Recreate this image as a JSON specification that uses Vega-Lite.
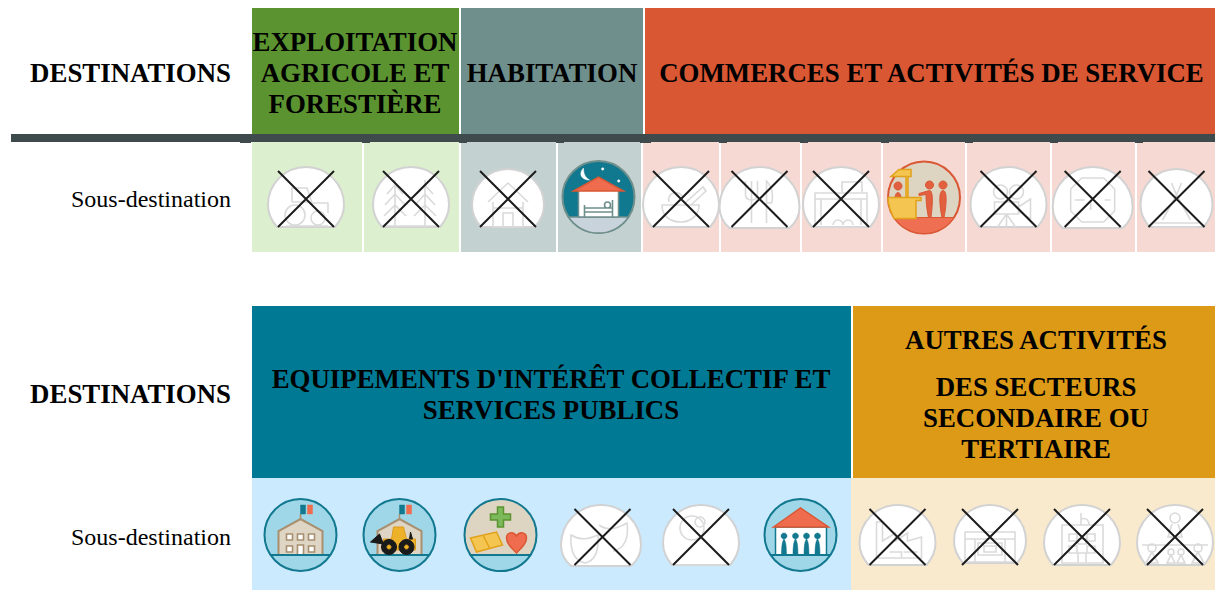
{
"$schema":"https://vega.github.io/schema/vega-lite/v6.json",
"width":1215,"height":590,"padding":0,"autosize":{"type":"none"},"background":"#ffffff",
"config":{"view":{"stroke":null},"legend":{"disable":true},"axis":{"disable":true}},
"layer":[
{"data":{"values":[
{"zone":"agricole","x0":252,"x1":459,"y0":8,"y1":134},
{"zone":"habitation","x0":461,"x1":643,"y0":8,"y1":134},
{"zone":"commerce","x0":645,"x1":1215,"y0":8,"y1":134},
{"zone":"agricole clair","x0":252,"x1":362,"y0":142,"y1":252},
{"zone":"agricole clair","x0":364,"x1":459,"y0":142,"y1":252},
{"zone":"habitation clair","x0":461,"x1":556,"y0":142,"y1":252},
{"zone":"habitation clair","x0":558,"x1":641,"y0":142,"y1":252},
{"zone":"commerce clair","x0":643,"x1":719,"y0":142,"y1":252},
{"zone":"commerce clair","x0":721,"x1":800,"y0":142,"y1":252},
{"zone":"commerce clair","x0":802,"x1":881,"y0":142,"y1":252},
{"zone":"commerce clair","x0":883,"x1":965,"y0":142,"y1":252},
{"zone":"commerce clair","x0":967,"x1":1050,"y0":142,"y1":252},
{"zone":"commerce clair","x0":1052,"x1":1135,"y0":142,"y1":252},
{"zone":"commerce clair","x0":1137,"x1":1215,"y0":142,"y1":252},
{"zone":"barre","x0":11,"x1":1215,"y0":134,"y1":142},
{"zone":"barre","x0":240,"x1":251,"y0":142,"y1":143},
{"zone":"barre","x0":362,"x1":370,"y0":142,"y1":143},
{"zone":"barre","x0":459,"x1":467,"y0":142,"y1":143},
{"zone":"barre","x0":556,"x1":564,"y0":142,"y1":143},
{"zone":"barre","x0":640,"x1":651,"y0":142,"y1":143},
{"zone":"barre","x0":719,"x1":727,"y0":142,"y1":143},
{"zone":"barre","x0":800,"x1":808,"y0":142,"y1":143},
{"zone":"barre","x0":881,"x1":889,"y0":142,"y1":143},
{"zone":"barre","x0":965,"x1":973,"y0":142,"y1":143},
{"zone":"barre","x0":1050,"x1":1058,"y0":142,"y1":143},
{"zone":"barre","x0":1135,"x1":1143,"y0":142,"y1":143},
{"zone":"equipement","x0":252,"x1":851,"y0":306,"y1":478},
{"zone":"autres","x0":853,"x1":1215,"y0":306,"y1":478},
{"zone":"equipement clair","x0":252,"x1":851,"y0":478,"y1":590},
{"zone":"autres clair","x0":851,"x1":1215,"y0":478,"y1":590}
]},
"mark":{"type":"rect","strokeWidth":0},
"encoding":{
"x":{"field":"x0","type":"quantitative","scale":{"domain":[0,1215],"range":[0,1215],"nice":false,"zero":false},"axis":null},
"x2":{"field":"x1"},
"y":{"field":"y0","type":"quantitative","scale":{"domain":[0,590],"range":[0,590],"nice":false,"zero":false},"axis":null},
"y2":{"field":"y1"},
"fill":{"field":"zone","type":"nominal","legend":null,"scale":{
"domain":["agricole","habitation","commerce","agricole clair","habitation clair","commerce clair","barre","equipement","autres","equipement clair","autres clair"],
"range":["#5b9331","#6f8f8c","#d95733","#dcefcf","#c3d1d1","#f6d9d3","#3f4a4d","#007a94","#dc9a17","#cbeafe","#f9e9cd"]}}
}},
{"data":{"values":[
{"p":"d38","k":"dome","x":306,"y":205},{"p":"tracteur","k":"ghost","x":306,"y":205},{"p":"croix","k":"croix","x":306,"y":205},
{"p":"d38","k":"dome","x":411,"y":205},{"p":"pins","k":"ghost","x":411,"y":205},{"p":"croix","k":"croix","x":411,"y":205},
{"p":"d36","k":"dome","x":508,"y":205},{"p":"maison","k":"ghost","x":508,"y":205},{"p":"croix","k":"croix","x":508,"y":205},
{"p":"disque","k":"nuit","x":598.5,"y":197},{"p":"sol","k":"sol gris","x":598.5,"y":197},{"p":"lit mur","k":"blanc gris","x":598.5,"y":197},{"p":"toit lit","k":"toit","x":598.5,"y":197},{"p":"lit","k":"trait gris","x":598.5,"y":197},{"p":"lune","k":"lune","x":598.5,"y":197},{"p":"etoiles","k":"lune","x":598.5,"y":197},
{"p":"d38","k":"dome","x":681,"y":205},{"p":"bol","k":"ghost","x":681,"y":205},{"p":"croix","k":"croix","x":681,"y":205},
{"p":"d40","k":"dome","x":759.5,"y":207},{"p":"couverts","k":"ghost","x":759.5,"y":205},{"p":"croix","k":"croix","x":759.5,"y":205},
{"p":"d38","k":"dome","x":841,"y":205},{"p":"boutique","k":"ghost","x":841,"y":205},{"p":"croix","k":"croix","x":841,"y":205},
{"p":"disque","k":"beige orange","x":924,"y":197.5},{"p":"sol","k":"sol orange","x":924,"y":197.5},{"p":"vendeur","k":"rouge","x":924,"y":197.5},{"p":"auvent","k":"jaune","x":924,"y":197.5},{"p":"comptoir","k":"jaune","x":924,"y":197.5},{"p":"client 1","k":"rouge","x":924,"y":197.5},{"p":"client 2","k":"rouge","x":924,"y":197.5},
{"p":"d38","k":"dome","x":1008.5,"y":205},{"p":"camera","k":"ghost","x":1008.5,"y":205},{"p":"croix","k":"croix","x":1008.5,"y":205},
{"p":"d40","k":"dome","x":1092.7,"y":207},{"p":"octogone","k":"ghost","x":1092.7,"y":205},{"p":"croix","k":"croix","x":1092.7,"y":205},
{"p":"d36","k":"dome","x":1176.5,"y":205},{"p":"tente","k":"ghost","x":1176.5,"y":205},{"p":"croix","k":"croix","x":1176.5,"y":205},

{"p":"disque","k":"ciel","x":300.5,"y":535},{"p":"batiment","k":"mur","x":300.5,"y":535},{"p":"fenetres","k":"fenetre","x":300.5,"y":535},{"p":"mat","k":"mat","x":300.5,"y":535},{"p":"drapeau b","k":"bleu","x":300.5,"y":535},{"p":"drapeau o","k":"orange","x":300.5,"y":535},{"p":"ligne sol","k":"trait teal","x":300.5,"y":535},
{"p":"disque","k":"ciel","x":399.5,"y":535},{"p":"batiment","k":"mur","x":399.5,"y":535},{"p":"mat","k":"mat","x":399.5,"y":535},{"p":"drapeau b","k":"bleu","x":399.5,"y":535},{"p":"drapeau o","k":"orange","x":399.5,"y":535},{"p":"ligne sol","k":"trait teal","x":399.5,"y":535},{"p":"cabine","k":"jaune engin","x":399.5,"y":535},{"p":"lame","k":"noir","x":399.5,"y":535},{"p":"roues","k":"noir","x":399.5,"y":535},{"p":"jantes","k":"jaune engin","x":399.5,"y":535},
{"p":"disque","k":"beige teal","x":500.5,"y":535},{"p":"sol","k":"sol ciel","x":500.5,"y":535},{"p":"plus","k":"vert","x":500.5,"y":535},{"p":"livre","k":"jaune","x":500.5,"y":535},{"p":"coeur","k":"toit","x":500.5,"y":535},
{"p":"d40","k":"dome","x":601,"y":545},{"p":"masques","k":"ghost","x":601,"y":543},{"p":"croix","k":"croix","x":602.5,"y":543},
{"p":"d38","k":"dome","x":701,"y":543},{"p":"raquette","k":"ghost","x":701,"y":543},{"p":"croix","k":"croix","x":701,"y":543},
{"p":"disque","k":"ciel","x":800.5,"y":535},{"p":"mur monument","k":"blanc teal","x":800.5,"y":535},{"p":"silhouettes","k":"bleu","x":800.5,"y":535},{"p":"toit monument","k":"toit","x":800.5,"y":535},{"p":"ligne sol","k":"trait teal","x":800.5,"y":535},
{"p":"d38","k":"dome","x":897.5,"y":543},{"p":"usine","k":"ghost","x":897.5,"y":543},{"p":"croix","k":"croix","x":897.5,"y":543},
{"p":"d36","k":"dome","x":990,"y":541},{"p":"salle","k":"ghost","x":990,"y":543},{"p":"croix","k":"croix","x":990,"y":543},
{"p":"d38","k":"dome","x":1082,"y":543},{"p":"ecole","k":"ghost","x":1082,"y":543},{"p":"croix","k":"croix","x":1082,"y":543},
{"p":"d38","k":"dome","x":1175,"y":543},{"p":"foule","k":"ghost","x":1175,"y":543},{"p":"croix","k":"croix","x":1175,"y":543}
]},
"mark":{"type":"point","filled":true,"opacity":1,"size":4},
"encoding":{
"x":{"field":"x","type":"quantitative","scale":{"domain":[0,1215],"range":[0,1215],"nice":false,"zero":false},"axis":null},
"y":{"field":"y","type":"quantitative","scale":{"domain":[0,590],"range":[0,590],"nice":false,"zero":false},"axis":null},
"shape":{"field":"p","type":"nominal","legend":null,"scale":{
"domain":["d36","d38","d40","croix","tracteur","pins","maison","bol","couverts","boutique","camera","octogone","tente","masques","raquette","usine","salle","ecole","foule","disque","sol","lit mur","toit lit","lit","lune","etoiles","vendeur","comptoir","auvent","client 1","client 2","batiment","fenetres","mat","drapeau b","drapeau o","ligne sol","cabine","roues","jantes","lame","plus","livre","coeur","toit monument","mur monument","silhouettes"],
"range":[
"M-27 22C-33 15 -36 8 -36 0A36 36 0 0 1 36 0C36 8 33 15 27 22Z",
"M-29 22C-35 15 -38 8 -38 0A38 38 0 0 1 38 0C38 8 35 15 29 22Z",
"M-30 21C-37 15 -40 8 -40 0A40 40 0 0 1 40 0C40 8 37 15 30 21Z",
"M-28 -34L28 22M28 -34L-28 22",
"M-20 21H22M-21 10a10 10 0 1 0 20 0a10 10 0 1 0 -20 0M5 13a7 7 0 1 0 14 0a7 7 0 1 0 -14 0M-14 -3V-17H1L6 -2H22V8M-14 -3H4",
"M-16 -25V22M-16 -20L-24 -11M-16 -20L-8 -11M-16 -11L-26 0M-16 -11L-6 0M-16 0L-27 11M-16 0L-5 11M14 -25V22M14 -20L6 -11M14 -20L22 -11M14 -11L4 0M14 -11L24 0M14 0L3 11M14 0L25 11M-28 21H28",
"M-20 -3L0 -22L20 -3M-15 -3V22H15V-3M-15 3H15M-5 22V8H5V22",
"M-19 0H18C18 12 8 17 0 17C-10 17 -19 12 -19 0ZM-12 -3C-14 -12 -4 -16 2 -8M4 -2L22 -18L25 -14L10 0",
"M-14 -24V-10C-14 -5 -8 -5 -8 -5V18M-8 -24V-5M-2 -24V-10C-2 -5 -8 -5 -8 -5M7 18V-24C13 -18 14 -8 12 -2H7",
"M-26 22V-12H26V22M-26 -6H26M-20 -6V20M20 -6V20M1 -13V-23H21V-13M-8 20a5 5 0 0 1 10 0M2 20a5 5 0 0 1 10 0M-26 22H26",
"M-15 -13a7 7 0 1 0 14 0a7 7 0 1 0 -14 0M1 -13a7 7 0 1 0 14 0a7 7 0 1 0 -14 0M-14 -3H10V9H-14ZM10 2L22 -6V14L10 6M-2 9L-11 22M-2 9V22M-2 9L7 22",
"M-11 -27H11L22 -16V6L11 17H-11L-22 6V-16ZM-18 -5H-8M12 -5H18M-2 -5V5",
"M-5 -22L0 -10L5 -22M0 -10L-14 15M0 -10L14 15M-22 22H22M-22 18H22",
"M-30 -8C-20 -2 -12 -4 -3 -8C-2 8 -6 18 -16 20C-26 18 -31 8 -30 -8ZM-2 -18C6 -12 16 -14 26 -20C28 -6 24 6 12 8",
"M-21 -15a12 12 0 1 0 24 0a12 12 0 1 0 -24 0M-6 -21a5 5 0 1 0 10 0a5 5 0 1 0 -10 0M0 -5L24 17M-28 22H28",
"M-21 15V-21H-15V-2L-2 -10V-2L10 -10V-2L24 -6V15ZM-8 9H4V15M6 9H20",
"M-25 -11H25V19H-25ZM-25 -4H25M-15 -4V19M15 -4V19M-12 0H12V12H-12ZM-6 3H6V9H-6Z",
"M-20 20V-18H21V20ZM-13 -9h8v7h-8zM5 -9h8v7h-8zM-13 3h8v7h-8zM5 3h8v7h-8zM-4 -4h8v5h-8zM-4 20V10H4V20M-1 -18V-30M-1 -24C5 -26 7 -22 7 -18",
"M-33 2H33M-5 -25a5 5 0 1 0 10 0a5 5 0 1 0 -10 0M-3 -19L-7 -6H7L3 -19M-27 5a4 4 0 1 0 8 0a4 4 0 1 0 -8 0M-23 9L-29 20H-17ZM-7 9a3 3 0 1 0 6 0a3 3 0 1 0 -6 0M-4 12L-8 20H0ZM3 9a3 3 0 1 0 6 0a3 3 0 1 0 -6 0M6 12L2 20H10ZM19 5a4 4 0 1 0 8 0a4 4 0 1 0 -8 0M23 9L17 20H29Z",
"M-36 0A36 36 0 1 1 36 0A36 36 0 1 1 -36 0Z",
"M-30 20A36 36 0 0 0 30 20Z",
"M-20 -7H20V20H-20Z",
"M-25 -6L0 -20L25 -6Z",
"M-14 8V20M14 3V20M-14 11H14M-14 15H14M6 8a3 3 0 1 0 6 0a3 3 0 1 0 -6 0",
"M-15 -29C-20 -24 -18 -17 -9 -17C-14 -20 -15 -24 -15 -29Z",
"M3 -28a1.2 1.2 0 1 0 2.4 0a1.2 1.2 0 1 0 -2.4 0M19 -16a1.2 1.2 0 1 0 2.4 0a1.2 1.2 0 1 0 -2.4 0",
"M-30 -11.5a4 4 0 1 0 8 0a4 4 0 1 0 -8 0M-29 1C-29 -7 -23 -7 -23 1Z",
"M-36 0H-3V3H-8V21H-30C-33 15 -36 8 -36 0Z",
"M-25 -28H-13V-21H-16V0H-18V-21H-33Z",
"M1.5 -12.5a4 4 0 1 0 8 0a4 4 0 1 0 -8 0M5.5 -7C9 -7 9 4 7 20H4.5C2 8 2 -1 2 -3L-5 -2V-4L2 -6Z",
"M15 -12.5a4 4 0 1 0 8 0a4 4 0 1 0 -8 0M19 -7C23 -7 23 5 20 20H18C15 5 15 -7 19 -7Z",
"M-22 20V-4L0 -16L22 -4V20Z",
"M-14 -1h6v6h-6zM-3 -1h6v6h-6zM8 -1h6v6h-6zM-14 11h6v6h-6zM8 11h6v6h-6zM-3 10h6v10h-6z",
"M0 -21V-16",
"M0 -30H5V-21H0Z",
"M7 -30H12V-21H7Z",
"M-30 20H30",
"M-8 4L-6 -8H4L7 4H16V15H-16V4Z",
"M-18 12a7.5 7.5 0 1 0 15 0a7.5 7.5 0 1 0 -15 0M-0.5 12a7.5 7.5 0 1 0 15 0a7.5 7.5 0 1 0 -15 0",
"M-12.5 12a2 2 0 1 0 4 0a2 2 0 1 0 -4 0M5 12a2 2 0 1 0 4 0a2 2 0 1 0 -4 0",
"M-29 7L-20 -1L-16 9ZM10 4L11 -3L13 4Z",
"M-3 -28H3V-21H10V-15H3V-8H-3V-15H-10V-21H-3Z",
"M-30 3L-4 -3L2 10L-24 17ZM-17 1L-11 13",
"M16 18C10 12 6 8 6 3C6 -3 13 -4 16 1C19 -4 26 -3 26 3C26 8 22 12 16 18Z",
"M-27 -8L0 -27L28 -8Z",
"M-25 -8H26V20H-25Z",
"M-19.5 1a3 3 0 1 0 6 0a3 3 0 1 0 -6 0M-19 20C-19 10 -18 6 -16.5 4C-15 6 -14 10 -14 20ZM-8 1a3 3 0 1 0 6 0a3 3 0 1 0 -6 0M-7.5 20C-7.5 10 -6.5 6 -5 4C-3.5 6 -2.5 10 -2.5 20ZM3 1a3 3 0 1 0 6 0a3 3 0 1 0 -6 0M3.5 20C3.5 10 4.5 6 6 4C7.5 6 8.5 10 8.5 20ZM14 1a3 3 0 1 0 6 0a3 3 0 1 0 -6 0M14.5 20C14.5 10 15.5 6 17 4C18.5 6 19.5 10 19.5 20Z"
]}},
"fill":{"field":"k","type":"nominal","legend":null,"scale":{
"domain":["dome","ghost","croix","nuit","sol gris","blanc gris","toit","trait gris","lune","beige orange","sol orange","jaune","rouge","ciel","sol ciel","beige teal","mur","fenetre","mat","bleu","orange","vert","noir","blanc teal","trait teal","jaune engin"],
"range":["#ffffff","transparent","transparent","#11798f","#c8d3dc","#ffffff","#ef6c4f","transparent","#ffffff","#ddd4c2","#ef6f52","#f4c651","#e25f3f","#9fd7e8","#9fd7e8","#ddd4c2","#ded5c4","#ffffff","transparent","#11788f","#ef6c4f","#7cb95a","#1a1a1a","#ffffff","transparent","#eeb12a"]}},
"stroke":{"field":"k","type":"nominal","legend":null,"scale":{
"domain":["dome","ghost","croix","nuit","sol gris","blanc gris","toit","trait gris","lune","beige orange","sol orange","jaune","rouge","ciel","sol ciel","beige teal","mur","fenetre","mat","bleu","orange","vert","noir","blanc teal","trait teal","jaune engin"],
"range":["#d2d2d2","#dadada","#1c1c1c","#6f8f8c","#6f8f8c","#6f8f8c","#d95733","#6f8f8c","#ffffff","#d95733","#d95733","#e2a11a","#d95733","#11788f","#11788f","#11788f","#a88f6f","#a88f6f","#a88f6f","#11788f","#ef6c4f","#5b9431","#1a1a1a","#11788f","#11788f","#dd9c1c"]}},
"strokeWidth":{"field":"k","type":"nominal","legend":null,"scale":{"type":"ordinal",
"domain":["dome","ghost","croix","nuit","sol gris","blanc gris","toit","trait gris","lune","beige orange","sol orange","jaune","rouge","ciel","sol ciel","beige teal","mur","fenetre","mat","bleu","orange","vert","noir","blanc teal","trait teal","jaune engin"],
"range":[2,1.6,2,2,1.5,1.5,1.5,1.6,0.5,2,1,1.5,1,2,2,2,2,1.6,1.5,0.5,0.5,1.5,1,1.5,2,1]}}
}},
{"data":{"values":[
{"label":"EXPLOITATION","tx":355,"ty":43},
{"label":"AGRICOLE ET","tx":355,"ty":74},
{"label":"FORESTIÈRE","tx":355,"ty":105},
{"label":"HABITATION","tx":552,"ty":74},
{"label":"COMMERCES ET ACTIVITÉS DE SERVICE","tx":931.5,"ty":74},
{"label":"EQUIPEMENTS D'INTÉRÊT COLLECTIF ET","tx":551,"ty":380},
{"label":"SERVICES PUBLICS","tx":551,"ty":411},
{"label":"AUTRES ACTIVITÉS","tx":1036,"ty":341},
{"label":"DES SECTEURS","tx":1036,"ty":388},
{"label":"SECONDAIRE OU","tx":1036,"ty":419},
{"label":"TERTIAIRE","tx":1036,"ty":450}
]},
"mark":{"type":"text","font":"Liberation Serif","fontWeight":"bold","fontSize":26.85,"align":"center","baseline":"middle","color":"#000000"},
"encoding":{
"x":{"field":"tx","type":"quantitative","scale":{"domain":[0,1215],"range":[0,1215],"nice":false,"zero":false},"axis":null},
"y":{"field":"ty","type":"quantitative","scale":{"domain":[0,590],"range":[0,590],"nice":false,"zero":false},"axis":null},
"text":{"field":"label","type":"nominal"}
}},
{"data":{"values":[
{"label":"DESTINATIONS","tx":231,"ty":74},
{"label":"DESTINATIONS","tx":231,"ty":395}
]},
"mark":{"type":"text","font":"Liberation Serif","fontWeight":"bold","fontSize":26.85,"align":"right","baseline":"middle","color":"#000000"},
"encoding":{
"x":{"field":"tx","type":"quantitative","scale":{"domain":[0,1215],"range":[0,1215],"nice":false,"zero":false},"axis":null},
"y":{"field":"ty","type":"quantitative","scale":{"domain":[0,590],"range":[0,590],"nice":false,"zero":false},"axis":null},
"text":{"field":"label","type":"nominal"}
}},
{"data":{"values":[
{"label":"Sous-destination","tx":231,"ty":200},
{"label":"Sous-destination","tx":231,"ty":538}
]},
"mark":{"type":"text","font":"Liberation Serif","fontSize":24,"align":"right","baseline":"middle","color":"#000000"},
"encoding":{
"x":{"field":"tx","type":"quantitative","scale":{"domain":[0,1215],"range":[0,1215],"nice":false,"zero":false},"axis":null},
"y":{"field":"ty","type":"quantitative","scale":{"domain":[0,590],"range":[0,590],"nice":false,"zero":false},"axis":null},
"text":{"field":"label","type":"nominal"}
}}
],
"resolve":{"scale":{"x":"shared","y":"shared","fill":"independent"}}
}
